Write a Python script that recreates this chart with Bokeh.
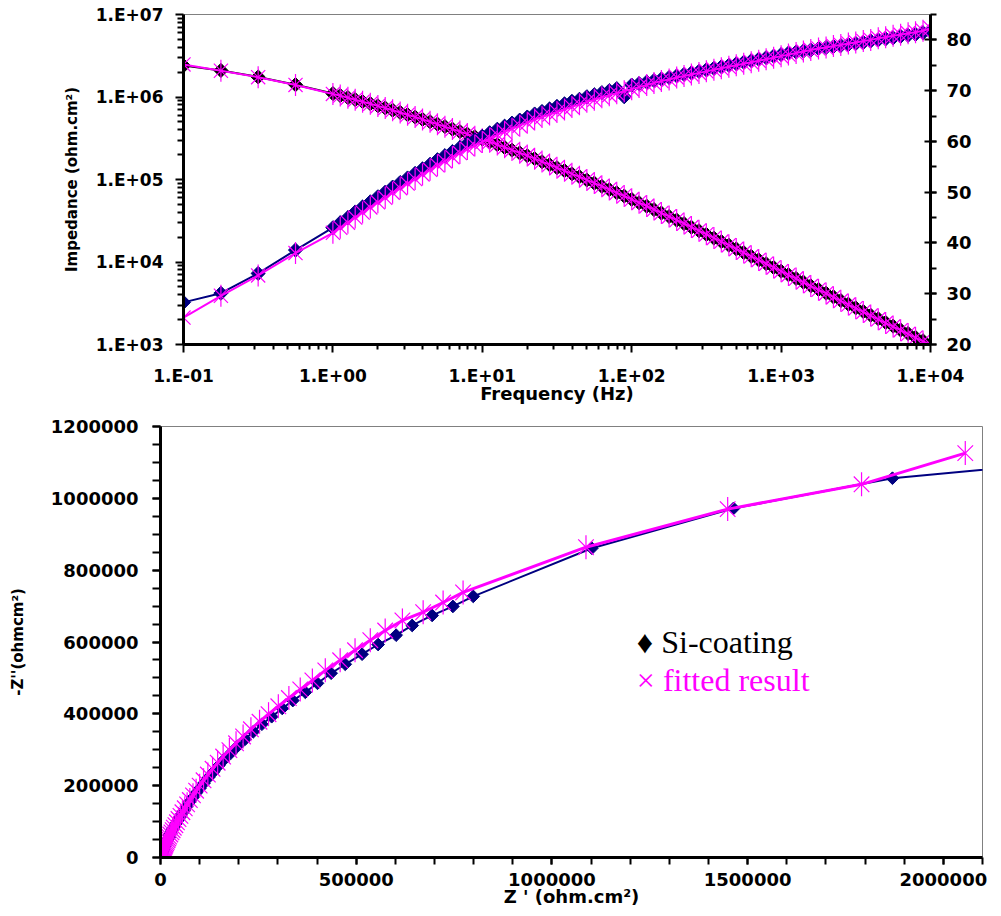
import math
from bokeh.plotting import figure
from bokeh.models import (Range1d, LinearAxis, LinearScale, FixedTicker, CustomJSTickFormatter,
                          BasicTickFormatter, Label)
from bokeh.embed import file_html
from bokeh.resources import INLINE

NAVY = "#000080"
MAG = "#FF00FF"

# ---------------- data ----------------
freq = [0.1, 0.178, 0.316, 0.562,
        1.0, 1.12, 1.26, 1.41, 1.58, 1.78, 2.0, 2.24, 2.51, 2.82, 3.16, 3.55, 3.98, 4.47, 5.01, 5.62, 6.31, 7.08, 7.94, 8.91,
        10, 11.2, 12.6, 14.1, 15.8, 17.8, 20, 22.4, 25.1, 28.2, 31.6, 35.5, 39.8, 44.7, 50.1, 56.2, 63.1, 70.8, 79.4, 89.1,
        100, 112, 126, 141, 158, 178, 200, 224, 251, 282, 316, 355, 398, 447, 501, 562, 631, 708, 794, 891,
        1000, 1120, 1260, 1410, 1580, 1780, 2000, 2240, 2510, 2820, 3160, 3550, 3980, 4470, 5010, 5620, 6310, 7080, 7940, 8910,
        10000]

zmod_data = [2.40e6, 2.10e6, 1.75e6, 1.41e6,
             1.10e6, 1.04e6, 9.84e5, 9.31e5, 8.79e5, 8.30e5, 7.82e5, 7.36e5, 6.92e5, 6.50e5, 6.10e5, 5.71e5, 5.36e5, 5.01e5, 4.69e5, 4.38e5, 4.08e5, 3.81e5, 3.55e5, 3.30e5,
             3.08e5, 2.86e5, 2.65e5, 2.45e5, 2.27e5, 2.10e5, 1.94e5, 1.79e5, 1.64e5, 1.51e5, 1.39e5, 1.28e5, 1.17e5, 1.08e5, 9.86e4, 9.04e4, 8.26e4, 7.55e4, 6.90e4, 6.30e4,
             5.74e4, 5.22e4, 4.75e4, 4.32e4, 3.92e4, 3.56e4, 3.22e4, 2.92e4, 2.64e4, 2.39e4, 2.16e4, 1.95e4, 1.77e4, 1.60e4, 1.44e4, 1.30e4, 1.17e4, 1.06e4, 9.53e3, 8.59e3,
             7.74e3, 7.00e3, 6.31e3, 5.70e3, 5.14e3, 4.65e3, 4.19e3, 3.78e3, 3.41e3, 3.08e3, 2.78e3, 2.51e3, 2.26e3, 2.05e3, 1.85e3, 1.67e3, 1.50e3, 1.36e3, 1.22e3, 1.11e3,
             1.00e3]

zmod_fit = [2.48e6, 2.08e6, 1.74e6, 1.40e6,
            1.09e6, 1.04e6, 9.80e5, 9.28e5, 8.77e5, 8.28e5, 7.80e5, 7.35e5, 6.91e5, 6.49e5, 6.09e5, 5.71e5, 5.35e5, 5.01e5, 4.68e5, 4.37e5, 4.08e5, 3.81e5, 3.55e5, 3.30e5,
            3.07e5, 2.86e5, 2.65e5, 2.46e5, 2.28e5, 2.11e5, 1.95e5, 1.79e5, 1.65e5, 1.52e5, 1.39e5, 1.28e5, 1.17e5, 1.08e5, 9.88e4, 9.05e4, 8.28e4, 7.57e4, 6.91e4, 6.31e4,
            5.75e4, 5.24e4, 4.77e4, 4.33e4, 3.93e4, 3.57e4, 3.23e4, 2.93e4, 2.65e4, 2.40e4, 2.17e4, 1.96e4, 1.77e4, 1.60e4, 1.44e4, 1.30e4, 1.17e4, 1.06e4, 9.54e3, 8.60e3,
            7.74e3, 6.98e3, 6.29e3, 5.67e3, 5.11e3, 4.61e3, 4.16e3, 3.75e3, 3.38e3, 3.05e3, 2.75e3, 2.48e3, 2.24e3, 2.02e3, 1.82e3, 1.65e3, 1.49e3, 1.34e3, 1.21e3, 1.09e3,
            1.00e3]

phase_data = [28.3, 30.1, 34.0, 38.6,
              43.0, 44.0, 45.0, 46.1, 47.1, 48.1, 49.1, 50.0, 51.0, 51.9, 52.8, 53.7, 54.6, 55.5, 56.4, 57.2, 58.0, 58.8, 59.6, 60.3,
              61.0, 61.7, 62.4, 63.0, 63.6, 64.2, 64.8, 65.4, 65.9, 66.4, 66.9, 67.4, 67.9, 68.3, 68.8, 69.2, 69.6, 70.0, 70.4, 68.8,
              71.1, 71.4, 71.7, 72.0, 72.3, 72.6, 72.9, 73.2, 73.5, 73.8, 74.1, 74.4, 74.7, 75.0, 75.3, 75.6, 75.9, 76.2, 76.5, 76.8,
              77.1, 77.4, 77.6, 77.8, 78.0, 78.3, 78.5, 78.7, 78.9, 79.1, 79.3, 79.5, 79.8, 80.0, 80.2, 80.4, 80.7, 80.9, 81.1, 81.4,
              81.6]

phase_fit = [25.3, 29.6, 33.6, 38.0,
             42.0, 43.0, 44.0, 45.0, 46.0, 47.0, 48.0, 48.9, 49.9, 50.8, 51.7, 52.6, 53.5, 54.4, 55.3, 56.1, 56.9, 57.7, 58.5, 59.2,
             59.9, 60.6, 61.3, 61.9, 62.5, 63.1, 63.7, 64.3, 64.8, 65.3, 65.8, 66.3, 66.8, 67.3, 67.8, 68.2, 68.7, 69.1, 69.5, 69.9,
             70.3, 70.7, 71.1, 71.5, 71.9, 72.2, 72.6, 72.9, 73.2, 73.5, 73.8, 74.1, 74.4, 74.7, 75.0, 75.3, 75.6, 75.9, 76.2, 76.5,
             76.8, 77.1, 77.4, 77.7, 78.0, 78.3, 78.5, 78.8, 79.0, 79.3, 79.5, 79.8, 80.0, 80.3, 80.5, 80.8, 81.0, 81.3, 81.5, 81.8,
             82.3]

zre_data = [2300000, 1870000, 1464000, 1102000,
            799000, 747000, 694000, 643000, 602000, 556000, 515000, 472000, 436000, 401000, 370000, 338000, 311000, 284000, 259000, 237000, 216000, 197000, 180000, 163000,
            149000, 136000, 123000, 111000, 101000, 91400, 82600, 74500, 66900, 60400, 54500, 49200, 44000, 40000, 35700, 32100, 28800, 25800, 23100, 22800,
            18600, 16700, 14900, 13400, 11900, 10600, 9500, 8500, 7500, 6700, 6000, 5300, 4800, 4200, 3800, 3400, 3000, 2700, 2400, 2100,
            1900, 1700, 1500, 1300, 1200, 1000, 900, 800, 700, 600, 600, 500, 400, 400, 300, 300, 300, 200, 200, 200,
            200]

zim_data = [1100000, 1056000, 972000, 861000,
            727000, 699000, 674000, 646000, 619000, 593000, 566000, 538000, 513000, 485000, 460000, 437000, 415000, 392000, 371000, 350000, 329000, 310000, 291000, 273000,
            256000, 239000, 223000, 207000, 193000, 180000, 167000, 155000, 142000, 131000, 122000, 112000, 103000, 95000, 87000, 80000, 74000, 67000, 62000, 56000,
            52000, 47000, 42800, 39000, 35500, 32300, 29200, 26500, 24000, 21800, 19700, 17800, 16200, 14700, 13200, 11900, 10700, 9700, 8800, 7900,
            7100, 6500, 5900, 5300, 4800, 4300, 3900, 3500, 3200, 2900, 2600, 2400, 2100, 1900, 1700, 1600, 1400, 1300, 1100, 1000,
            900]

zre_fit = [2056000, 1791000, 1449000, 1087000,
           773000, 722000, 671000, 618000, 574000, 536000, 497000, 459000, 421000, 388000, 357000, 328000, 301000, 276000, 253000, 231000, 211000, 193000, 176000, 160000,
           146000, 133000, 121000, 110000, 100000, 91000, 83000, 75000, 68000, 62000, 56000, 51000, 46000, 42000, 38000, 34000, 31000, 28000, 25000, 22000,
           20000, 18000, 16100, 14500, 13000, 11600, 10400, 9300, 8300, 7400, 6600, 5900, 5200, 4700, 4200, 3700, 3300, 2900, 2600, 2300,
           2100, 1900, 1700, 1500, 1300, 1200, 1000, 900, 800, 700, 600, 600, 500, 400, 400, 300, 300, 300, 200, 200,
           200]

zim_fit = [1126000, 1039000, 970000, 864000,
           738000, 710000, 683000, 660000, 632000, 605000, 577000, 549000, 521000, 493000, 468000, 444000, 421000, 399000, 378000, 357000, 337000, 318000, 299000, 281000,
           264000, 247000, 231000, 215000, 200000, 186000, 173000, 160000, 148000, 137000, 126000, 116000, 107000, 98000, 90000, 83000, 76000, 70000, 64000, 58000,
           53000, 48000, 43600, 39600, 36000, 32700, 29600, 26800, 24300, 22000, 19900, 18000, 16300, 14800, 13300, 12000, 10800, 9800, 8800, 7900,
           7100, 6400, 5800, 5300, 4800, 4300, 3900, 3500, 3200, 2900, 2600, 2300, 2100, 1900, 1700, 1600, 1400, 1300, 1200, 1000,
           900]

freq_ticks = [0.1, 1, 10, 100, 1000, 10000]
freq_labels = ["1.E-01", "1.E+00", "1.E+01", "1.E+02", "1.E+03", "1.E+04"]
imp_ticks = [1e3, 1e4, 1e5, 1e6, 1e7]
imp_labels = ["1.E+03", "1.E+04", "1.E+05", "1.E+06", "1.E+07"]
phase_ticks = [20, 30, 40, 50, 60, 70, 80]
zre_ticks = [0, 500000, 1000000, 1500000, 2000000]
zim_ticks = [0, 200000, 400000, 600000, 800000, 1000000, 1200000]

legend_labels = ["\u2666 Si-coating", "\u00d7 fitted result"]

TICK_FONT = "DejaVu Sans"

def log_minor(lo_exp, hi_exp):
    return [m * 10.0 ** e for e in range(lo_exp, hi_exp) for m in range(2, 10)]

def label_formatter(tvals, tlabels):
    return CustomJSTickFormatter(args=dict(tvals=tvals, tlabels=tlabels), code="""
        for (let i = 0; i < tvals.length; i++) {
            if (Math.abs(tick - tvals[i]) <= 1e-6 * Math.abs(tvals[i])) { return tlabels[i]; }
        }
        return "";
    """)

def style_axis(ax, size, tick_in=0, tick_out=8, minor_out=5):
    ax.axis_line_width = 3
    ax.axis_line_color = "black"
    ax.major_tick_line_width = 2
    ax.minor_tick_line_width = 2
    ax.major_tick_line_color = "black"
    ax.minor_tick_line_color = "black"
    ax.major_tick_in = tick_in
    ax.major_tick_out = tick_out
    ax.minor_tick_in = 0
    ax.minor_tick_out = minor_out
    ax.major_label_text_font = TICK_FONT
    ax.major_label_text_font_style = "bold"
    ax.major_label_text_font_size = size
    ax.major_label_text_color = "black"
    ax.axis_label_text_font = TICK_FONT
    ax.axis_label_text_font_style = "bold"
    ax.axis_label_text_color = "black"

# ---------------- top: Bode plot ----------------
p1 = figure(frame_width=747, frame_height=330, x_axis_type="log", y_axis_type="log",
            x_range=Range1d(0.1, 1e4), y_range=Range1d(1e3, 1e7),
            output_backend="svg", toolbar_location=None,
            min_border_left=183, min_border_right=60, min_border_top=14, min_border_bottom=62)
p1.extra_y_ranges = {"phase": Range1d(20, 85)}
p1.extra_y_scales = {"phase": LinearScale()}
p1.grid.visible = False
p1.outline_line_color = "#808080"
p1.outline_line_width = 1

xa = p1.xaxis[0]
xa.ticker = FixedTicker(ticks=freq_ticks, minor_ticks=log_minor(-1, 4))
xa.formatter = label_formatter(freq_ticks, freq_labels)
style_axis(xa, "17px", tick_out=8, minor_out=5)
xa.major_label_standoff = 13
xa.axis_label = "Frequency (Hz)"
xa.axis_label_text_font_size = "18px"
xa.axis_label_standoff = -6

ya = p1.yaxis[0]
ya.ticker = FixedTicker(ticks=imp_ticks, minor_ticks=log_minor(3, 7))
ya.formatter = label_formatter(imp_ticks, imp_labels)
style_axis(ya, "17px", tick_out=8, minor_out=6)
ya.major_label_standoff = 12
ya.axis_label = "Impedance (ohm.cm\u00b2)"
ya.axis_label_text_font_size = "15px"
ya.axis_label_standoff = 12

ra = LinearAxis(y_range_name="phase",
                ticker=FixedTicker(ticks=phase_ticks, minor_ticks=list(range(20, 86, 5))))
style_axis(ra, "18px", tick_in=6, tick_out=6, minor_out=6)
ra.major_label_standoff = 10
p1.add_layout(ra, "right")

# |Z| series
p1.line(freq, zmod_data, line_color="black", line_width=2)
p1.scatter(freq, zmod_data, marker="square", angle=math.pi / 4, size=10,
           fill_color="black", line_color="black")
p1.line(freq, zmod_fit, line_color=MAG, line_width=2)
p1.scatter(freq, zmod_fit, marker="x", size=20, line_color=MAG, line_width=1.2)
p1.scatter(freq, zmod_fit, marker="dash", angle=math.pi / 2, size=22, line_color=MAG, line_width=1.2)

# phase series
p1.line(freq, phase_data, line_color=NAVY, line_width=2, y_range_name="phase")
p1.scatter(freq, phase_data, marker="square", angle=math.pi / 4, size=10,
           fill_color=NAVY, line_color=NAVY, y_range_name="phase")
p1.line(freq, phase_fit, line_color=MAG, line_width=2, y_range_name="phase")
p1.scatter(freq, phase_fit, marker="x", size=20, line_color=MAG, line_width=1.2, y_range_name="phase")
p1.scatter(freq, phase_fit, marker="dash", angle=math.pi / 2, size=22, line_color=MAG,
           line_width=1.2, y_range_name="phase")

# ---------------- bottom: Nyquist plot ----------------
p2 = figure(frame_width=822, frame_height=431, x_range=Range1d(0, 2100000), y_range=Range1d(0, 1200000),
            output_backend="svg", toolbar_location=None,
            min_border_left=160, min_border_right=12, min_border_top=20, min_border_bottom=50)
p2.grid.visible = False
p2.outline_line_color = "#808080"
p2.outline_line_width = 1

bx = p2.xaxis[0]
bx.ticker = FixedTicker(ticks=zre_ticks, minor_ticks=list(range(0, 2100001, 100000)))
bx.formatter = BasicTickFormatter(use_scientific=False)
style_axis(bx, "18px", tick_out=7, minor_out=7)
bx.major_label_standoff = 8
bx.axis_label = "Z ' (ohm.cm\u00b2)"
bx.axis_label_text_font_size = "18px"
bx.axis_label_standoff = -3

by = p2.yaxis[0]
by.ticker = FixedTicker(ticks=zim_ticks, minor_ticks=list(range(0, 1200001, 50000)))
by.formatter = BasicTickFormatter(use_scientific=False)
style_axis(by, "18px", tick_out=8, minor_out=8)
by.major_label_standoff = 14
by.axis_label = "-Z''(ohmcm\u00b2)"
by.axis_label_text_font_size = "15px"
by.axis_label_standoff = 21

p2.line(zre_data, zim_data, line_color=NAVY, line_width=2)
p2.scatter(zre_data, zim_data, marker="square", angle=math.pi / 4, size=9,
           fill_color=NAVY, line_color=NAVY)
p2.line(zre_fit, zim_fit, line_color=MAG, line_width=3)
p2.scatter(zre_fit, zim_fit, marker="x", size=22, line_color=MAG, line_width=1.2)
p2.scatter(zre_fit, zim_fit, marker="dash", angle=math.pi / 2, size=24, line_color=MAG, line_width=1.2)

p2.add_layout(Label(x=1217000, y=550000, text=legend_labels[0], text_font="Liberation Serif",
                    text_font_size="32px", text_color="black"))
p2.add_layout(Label(x=1217000, y=444000, text=legend_labels[1], text_font="Liberation Serif",
                    text_font_size="32px", text_color=MAG))

open("out.html", "w").write(file_html([p1, p2], INLINE))
